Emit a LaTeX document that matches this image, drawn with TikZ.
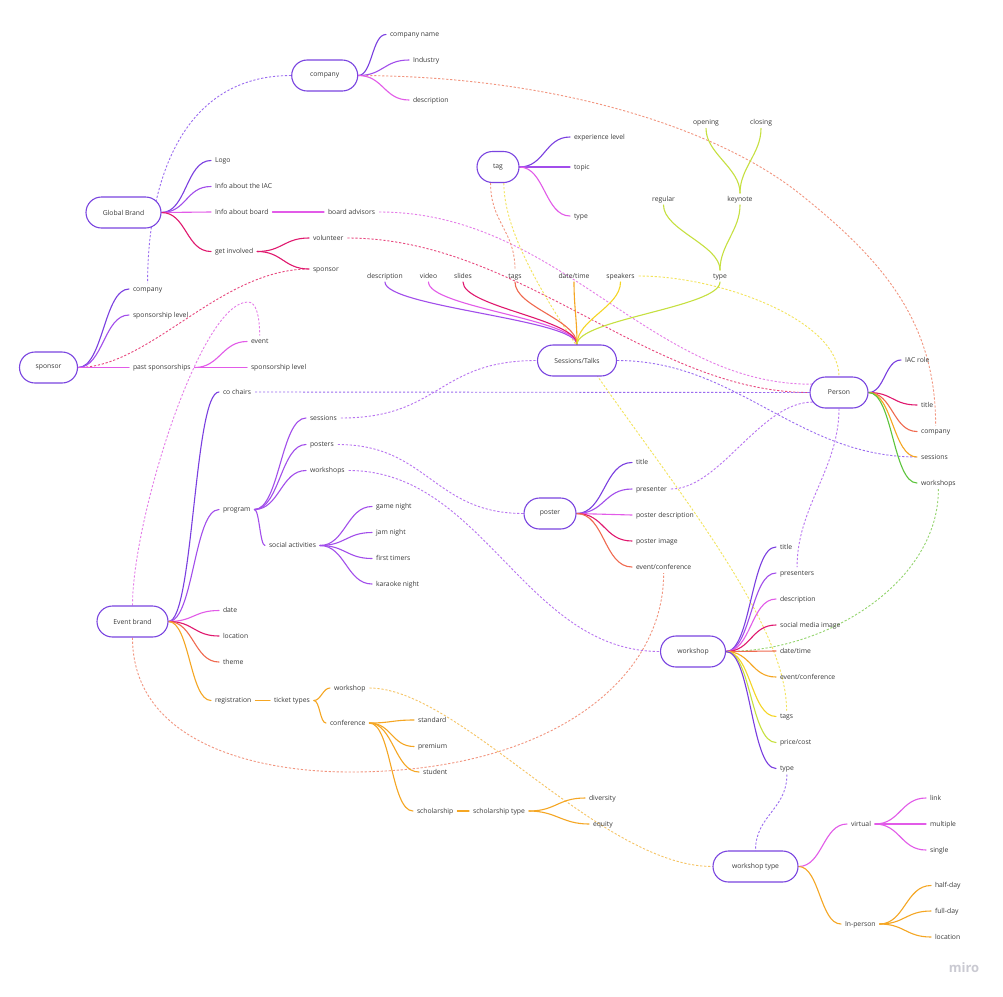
\documentclass[tikz,border=0pt]{standalone}
\usepackage{fontspec}
\setmainfont{Open Sans}
\usetikzlibrary{calc,shapes.misc}
\pgfdeclarelayer{bg}
\pgfsetlayers{bg,main}

% palette
\definecolor{nodeedge}{HTML}{7A45E0}
\definecolor{txt}{HTML}{3A3A3A}
\definecolor{cP}{HTML}{7A3FE0}
\definecolor{cV}{HTML}{A24EEB}
\definecolor{cM}{HTML}{E25BE8}
\definecolor{cR}{HTML}{E0186E}
\definecolor{cC}{HTML}{F06A50}
\definecolor{cO}{HTML}{F5A623}
\definecolor{cY}{HTML}{F5D525}
\definecolor{cL}{HTML}{C6E040}
\definecolor{cG}{HTML}{5CC43C}
\definecolor{dP}{HTML}{9B6CF0}
\definecolor{dV}{HTML}{B873F0}
\definecolor{dM}{HTML}{E57CE8}
\definecolor{dR}{HTML}{E8487E}
\definecolor{dC}{HTML}{F2957F}
\definecolor{dY}{HTML}{F3E45C}
\definecolor{dO}{HTML}{F6C464}
\definecolor{dG}{HTML}{95D56F}
\definecolor{logogray}{HTML}{CACAD2}

\newcommand\mmfont{\fontsize{6.8}{7.8}\selectfont}

\tikzset{
  mnode/.style={rounded rectangle, draw=nodeedge, line width=1.1pt, fill=white,
    minimum height=31pt, inner sep=0pt, text=txt, font=\mmfont},
  leaf/.style={inner sep=0pt, outer xsep=4pt, outer ysep=3pt, text height=5pt,
    text depth=1pt, text=txt, font=\mmfont, anchor=west},
  vleaf/.style={leaf, anchor=center},
  branch/.style={line width=1.1pt, line cap=round},
  link/.style={line width=0.9pt, dash pattern=on 2.2pt off 1.8pt},
}

% horizontal / vertical S-shaped connectors
\newcommand\hc[4][25]{\draw[#2] (#3) .. controls ($(#3)+(#1,0)$) and ($(#4)+(-#1,0)$) .. (#4);}
\newcommand\vc[4][25]{\draw[#2] (#3) .. controls ($(#3)+(0,#1)$) and ($(#4)+(0,-#1)$) .. (#4);}
\newcommand\vu[4][25]{\draw[#2] (#3) .. controls ($(#3)+(0,-#1)$) and ($(#4)+(0,#1)$) .. (#4);}

\begin{document}
\begin{tikzpicture}[x=1pt,y=-1pt]
\begin{pgfonlayer}{bg}
\fill[white] (0,0) rectangle (1003,996);
\end{pgfonlayer}
\useasboundingbox (0,0) rectangle (1003,996);

% ---------- main topics ----------
\node[mnode, minimum width=66pt] (company)  at (324.7,75.5)  {company};
\node[mnode, minimum width=75pt] (global)   at (123.5,212.5) {Global Brand};
\node[mnode, minimum width=42pt] (tag)      at (498,167)     {tag};
\node[mnode, minimum width=79pt] (sessions) at (577,360.5)   {Sessions/Talks};
\node[mnode, minimum width=58pt] (person)   at (839,392.5)   {Person};
\node[mnode, minimum width=58pt] (sponsor)  at (48.5,367.5)  {sponsor};
\node[mnode, minimum width=52pt] (poster)   at (550,513.5)   {poster};
\node[mnode, minimum width=71pt] (event)    at (132.5,621.5) {Event brand};
\node[mnode, minimum width=65pt] (workshop) at (693,651.5)   {workshop};
\node[mnode, minimum width=85pt] (wstype)   at (755.5,866.5) {workshop type};

% ---------- company ----------
\node[leaf] (cname) at (386,34.5) {company name};
\node[leaf] (cind)  at (409,60)   {Industry};
\node[leaf] (cdesc) at (409,100)  {description};

% ---------- global brand ----------
\node[leaf] (logo)   at (211,160.5) {Logo};
\node[leaf] (iac)    at (211,186.5) {Info about the IAC};
\node[leaf] (iboard) at (211,212)   {Info about board};
\node[leaf] (badv)   at (324,212)   {board advisors};
\node[leaf] (getinv) at (211,251.5) {get involved};
\node[leaf] (volun)  at (309,238)   {volunteer};
\node[leaf] (gspons) at (309,269)   {sponsor};

% ---------- tag ----------
\node[leaf] (texp)   at (570,137) {experience level};
\node[leaf] (ttopic) at (570,167) {topic};
\node[leaf] (ttype)  at (570,216) {type};

% ---------- sessions / talks ----------
\node[vleaf] (sdesc)   at (385,276)   {description};
\node[vleaf] (svideo)  at (428.5,276) {video};
\node[vleaf] (sslides) at (463,276)   {slides};
\node[vleaf] (stags)   at (515,276)   {tags};
\node[vleaf] (sdate)   at (574,276)   {date/time};
\node[vleaf] (sspeak)  at (620.5,276) {speakers};
\node[vleaf] (stype)   at (720,276)   {type};
\node[vleaf] (sreg)    at (663.5,199) {regular};
\node[vleaf] (skey)    at (740,199)   {keynote};
\node[vleaf] (sopen)   at (706,122.5) {opening};
\node[vleaf] (sclose)  at (761,122.5) {closing};

% ---------- sponsor ----------
\node[leaf] (spcomp)   at (129,289)   {company};
\node[leaf] (splevel)  at (129,315)   {sponsorship level};
\node[leaf] (sppast)   at (129,367.5) {past sponsorships};
\node[leaf] (spevent)  at (247,341.5) {event};
\node[leaf] (splevel2) at (247,367.5) {sponsorship level};

% ---------- person ----------
\node[leaf] (piac)   at (901,360)   {IAC role};
\node[leaf] (ptitle) at (917,405)   {title};
\node[leaf] (pcomp)  at (917,431.5) {company};
\node[leaf] (psess)  at (917,457)   {sessions};
\node[leaf] (pwork)  at (917,483)   {workshops};

% ---------- event brand ----------
\node[leaf] (cochairs)   at (219,392)   {co chairs};
\node[leaf] (program)    at (219,509.5) {program};
\node[leaf] (psessions)  at (306,418)   {sessions};
\node[leaf] (pposters)   at (306,444.5) {posters};
\node[leaf] (pworkshops) at (306,470.5) {workshops};
\node[leaf] (social)     at (265,545.5) {social activities};
\node[leaf] (game)       at (372,506.5) {game night};
\node[leaf] (jam)        at (372,532.5) {jam night};
\node[leaf] (first)      at (372,558.5) {first timers};
\node[leaf] (karaoke)    at (372,584)   {karaoke night};
\node[leaf] (edate)      at (219,610.5) {date};
\node[leaf] (eloc)       at (219,636)   {location};
\node[leaf] (etheme)     at (219,662)   {theme};
\node[leaf] (ereg)       at (211,700.5) {registration};
\node[leaf] (tickets)    at (270,700.5) {ticket types};
\node[leaf] (tworkshop)  at (330,688)   {workshop};
\node[leaf] (tconf)      at (326,723)   {conference};
\node[leaf] (standard)   at (414,720)   {standard};
\node[leaf] (premium)    at (414,746.5) {premium};
\node[leaf] (student)    at (419,772)   {student};
\node[leaf] (scholar)    at (413,811)   {scholarship};
\node[leaf] (stype2)     at (469,811)   {scholarship type};
\node[leaf] (divers)     at (585,798)   {diversity};
\node[leaf] (equity)     at (589,824)   {equity};

% ---------- poster ----------
\node[leaf] (potitle) at (632,462.5) {title};
\node[leaf] (popres)  at (632,489)   {presenter};
\node[leaf] (podesc)  at (632,515)   {poster description};
\node[leaf] (poimg)   at (632,541)   {poster image};
\node[leaf] (poevent) at (632,567)   {event/conference};

% ---------- workshop ----------
\node[leaf] (wtitle)  at (776,547)   {title};
\node[leaf] (wpres)   at (776,573)   {presenters};
\node[leaf] (wdesc)   at (776,599)   {description};
\node[leaf] (wsocial) at (776,625)   {social media image};
\node[leaf] (wdate)   at (776,651)   {date/time};
\node[leaf] (wevent)  at (776,677)   {event/conference};
\node[leaf] (wtags)   at (776,716.5) {tags};
\node[leaf] (wprice)  at (776,742.5) {price/cost};
\node[leaf] (wtype)   at (776,768.5) {type};

% ---------- workshop type ----------
\node[leaf] (virtual)  at (847,824)   {virtual};
\node[leaf] (link)     at (926,798)   {link};
\node[leaf] (multiple) at (926,824)   {multiple};
\node[leaf] (single)   at (926,850)   {single};
\node[leaf] (inperson) at (841,924)   {In-person};
\node[leaf] (half)     at (931,885.5) {half-day};
\node[leaf] (full)     at (931,911)   {full-day};
\node[leaf] (wloc)     at (931,937)   {location};

\node[text=logogray, font=\fontsize{13}{13}\selectfont\bfseries] (miro) at (964,968) {miro};

\begin{pgfonlayer}{bg}
% ---------- dashed cross links ----------
\draw[link,dP] (company.west) .. controls ($(company.west)+(-110,0)$) and ($(spcomp.north)+(0,-100)$) .. (spcomp.north);
\draw[link,dC] (company.east) .. controls (560,76) and (720,130) .. (800,194)
               .. controls (880,258) and (936,320) .. (pcomp.north);
\draw[link,dR] (sponsor.east) .. controls (150,367.5) and (220,269) .. (gspons.west);
\draw[link,dM] (event.north) .. controls (132.5,520) and (200,302) .. (248,302)
               .. controls (256,302) and (259.5,315) .. (spevent.north);
\draw[link,dM] (badv.east) .. controls (560,212) and (650,385) .. (person.163);
\draw[link,dR] (volun.east) .. controls (520,238) and (650,392.5) .. (person.west);
\draw[link,dP] (cochairs.east) -- (person.west);
\hc[100]{link,dV}{psessions.east}{sessions.west}
\hc[90]{link,dV}{pposters.east}{poster.west}
\hc[135]{link,dV}{pworkshops.east}{workshop.west}
\hc[120]{link,dP}{sessions.east}{psess.west}
\vc[40]{link,dC}{tag.245}{stags.north}
\draw[link,dY] (tag.290) .. controls ($(tag.290)+(0,130)$) and ($(wtags.north)+(0,-140)$) .. (wtags.north);
\draw[link,dY] (sspeak.east) .. controls (720,276) and (839,320) .. (person.north);
\draw[link,dV] (popres.east) .. controls (720,489) and (760,402) .. (person.200);
\vc[60]{link,dV}{person.south}{wpres.north}
\draw[link,dG] (pwork.south) .. controls (939,580) and (830,651.5) .. (workshop.east);
\draw[link,dC] (event.south) .. controls (132.5,740) and (250,772) .. (350,772)
               .. controls (550,772) and (664,680) .. (poevent.south);
\draw[link,dO] (tworkshop.east) .. controls (460,688) and (600,866.5) .. (wstype.west);
\vc[35]{link,dP}{wtype.south}{wstype.north}

% ---------- company branches ----------
\hc[14]{branch,cP}{company.east}{cname.west}
\hc{branch,cV}{company.east}{cind.west}
\hc{branch,cM}{company.east}{cdesc.west}

% ---------- global brand branches ----------
\hc{branch,cP}{global.east}{logo.west}
\hc{branch,cV}{global.east}{iac.west}
\hc{branch,cM}{global.east}{iboard.west}
\hc{branch,cR}{global.east}{getinv.west}
\draw[branch,cM] (iboard.east) -- (badv.west);
\hc{branch,cR}{getinv.east}{volun.west}
\hc{branch,cR}{getinv.east}{gspons.west}

% ---------- tag branches ----------
\hc{branch,cP}{tag.east}{texp.west}
\hc{branch,cV}{tag.east}{ttopic.west}
\hc{branch,cM}{tag.east}{ttype.west}

% ---------- sessions branches ----------
\vc{branch,cV}{sdesc.south}{sessions.north}
\vc{branch,cM}{svideo.south}{sessions.north}
\vc{branch,cR}{sslides.south}{sessions.north}
\vc{branch,cC}{stags.south}{sessions.north}
\vc{branch,cO}{sdate.south}{sessions.north}
\vc{branch,cY}{sspeak.south}{sessions.north}
\vc{branch,cL}{stype.south}{sessions.north}
\vu{branch,cL}{stype.north}{sreg.south}
\vu{branch,cL}{stype.north}{skey.south}
\vu{branch,cL}{skey.north}{sopen.south}
\vu{branch,cL}{skey.north}{sclose.south}

% ---------- sponsor branches ----------
\hc{branch,cP}{sponsor.east}{spcomp.west}
\hc{branch,cV}{sponsor.east}{splevel.west}
\hc{branch,cM}{sponsor.east}{sppast.west}
\hc{branch,cM}{sppast.east}{spevent.west}
\hc{branch,cM}{sppast.east}{splevel2.west}

% ---------- person branches ----------
\hc[16]{branch,cP}{person.east}{piac.west}
\hc[24]{branch,cR}{person.east}{ptitle.west}
\hc[24]{branch,cC}{person.east}{pcomp.west}
\hc[24]{branch,cO}{person.east}{psess.west}
\hc[24]{branch,cG}{person.east}{pwork.west}

% ---------- event brand branches ----------
\hc{branch,cP}{event.east}{cochairs.west}
\hc{branch,cV}{event.east}{program.west}
\hc{branch,cM}{event.east}{edate.west}
\hc{branch,cR}{event.east}{eloc.west}
\hc{branch,cC}{event.east}{etheme.west}
\hc[21]{branch,cO}{event.east}{ereg.west}
\hc{branch,cV}{program.east}{psessions.west}
\hc{branch,cV}{program.east}{pposters.west}
\hc{branch,cV}{program.east}{pworkshops.west}
\hc[5]{branch,cV}{program.east}{social.west}
\hc{branch,cV}{social.east}{game.west}
\hc{branch,cV}{social.east}{jam.west}
\hc{branch,cV}{social.east}{first.west}
\hc{branch,cV}{social.east}{karaoke.west}
\draw[branch,cO] (ereg.east) -- (tickets.west);
\hc[7]{branch,cO}{tickets.east}{tworkshop.west}
\hc[6]{branch,cO}{tickets.east}{tconf.west}
\hc[22]{branch,cO}{tconf.east}{standard.west}
\hc[22]{branch,cO}{tconf.east}{premium.west}
\hc[24]{branch,cO}{tconf.east}{student.west}
\hc[22]{branch,cO}{tconf.east}{scholar.west}
\draw[branch,cO] (scholar.east) -- (stype2.west);
\hc[27]{branch,cO}{stype2.east}{divers.west}
\hc[27]{branch,cO}{stype2.east}{equity.west}

% ---------- poster branches ----------
\hc[28]{branch,cP}{poster.east}{potitle.west}
\hc[28]{branch,cV}{poster.east}{popres.west}
\hc[28]{branch,cM}{poster.east}{podesc.west}
\hc[28]{branch,cR}{poster.east}{poimg.west}
\hc[28]{branch,cC}{poster.east}{poevent.west}

% ---------- workshop branches ----------
\hc{branch,cP}{workshop.east}{wtitle.west}
\hc{branch,cV}{workshop.east}{wpres.west}
\hc{branch,cM}{workshop.east}{wdesc.west}
\hc{branch,cR}{workshop.east}{wsocial.west}
\hc{branch,cC}{workshop.east}{wdate.west}
\hc{branch,cO}{workshop.east}{wevent.west}
\hc{branch,cY}{workshop.east}{wtags.west}
\hc{branch,cL}{workshop.east}{wprice.west}
\hc{branch,cP}{workshop.east}{wtype.west}

% ---------- workshop type branches ----------
\hc[24]{branch,cM}{wstype.east}{virtual.west}
\hc[21]{branch,cO}{wstype.east}{inperson.west}
\hc{branch,cM}{virtual.east}{link.west}
\hc{branch,cM}{virtual.east}{multiple.west}
\hc{branch,cM}{virtual.east}{single.west}
\hc{branch,cO}{inperson.east}{half.west}
\hc{branch,cO}{inperson.east}{full.west}
\hc{branch,cO}{inperson.east}{wloc.west}
\end{pgfonlayer}
\end{tikzpicture}
\end{document}
